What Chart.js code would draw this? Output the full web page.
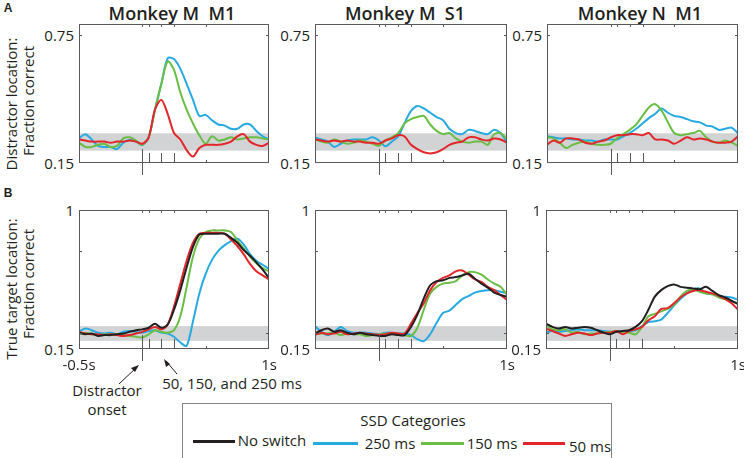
<!DOCTYPE html>
<html>
<head>
<meta charset="utf-8">
<script src="https://cdn.jsdelivr.net/npm/chart.js@4.4.0/dist/chart.umd.min.js"></script>
<style>
  body { margin: 0; width: 744px; height: 458px; background: #fff; position: relative; overflow: hidden;
         font-family: 'Open Sans', sans-serif; color: #231f20; }
  canvas { position: absolute; }
  .t { position: absolute; white-space: pre; line-height: 1; transform: translate(-50%, -50%); }
  .title { font-size: 18px; font-weight: 600; }
  .ytitle { font-size: 15px; transform: translate(-50%, -50%) rotate(-90deg); }
  .tick { font-size: 15px; }
  .note { font-size: 15px; }
  .letter { font-family: 'Liberation Sans', Arial, sans-serif; font-weight: bold; font-size: 12px; }
  #legend { position: absolute; left: 182px; top: 403px; width: 430px; height: 60px; border: 1.5px solid #808285; box-sizing: border-box; }
  .sw { position: absolute; height: 2.5px; }
</style>
</head>
<body>

<div class="t letter" style="left:8px; top:8px;">A</div>
<div class="t letter" style="left:8px; top:193px;">B</div>

<div class="t title" style="left:172px; top:13px;">Monkey M  M1</div>
<div class="t title" style="left:405px; top:13px;">Monkey M  S1</div>
<div class="t title" style="left:640px; top:13px;">Monkey N  M1</div>

<div class="t ytitle" style="left:11px; top:104px;">Distractor location:</div>
<div class="t ytitle" style="left:28px; top:101px;">Fraction correct</div>
<div class="t ytitle" style="left:11px; top:289px;">True target location:</div>
<div class="t ytitle" style="left:28px; top:284px;">Fraction correct</div>

<div class="t note" style="left:107px; top:390px;">Distractor</div>
<div class="t note" style="left:107px; top:409px;">onset</div>
<div class="t note" style="left:232px; top:383px;">50, 150, and 250 ms</div>

<svg width="744" height="458" style="position:absolute; left:0; top:0; pointer-events:none;">
  <g stroke="#231f20" stroke-width="1" fill="#231f20">
    <line x1="119" y1="384" x2="137" y2="367"/>
    <polygon points="139,365 131,368 135,372" stroke="none"/>
    <line x1="177" y1="374" x2="166" y2="361"/>
    <polygon points="164,359 166,367 170,364" stroke="none"/>
  </g>
</svg>

<div id="legend"></div>
<div class="t note" style="left:413px; top:420px;">SSD Categories</div>
<div class="sw" style="left:193px; top:440px; width:42px; background:#231f20;"></div>
<div class="t note" style="left:272px; top:440px;">No switch</div>
<div class="sw" style="left:313px; top:442px; width:45px; background:#27aae1;"></div>
<div class="t note" style="left:390px; top:443px;">250 ms</div>
<div class="sw" style="left:421px; top:442px; width:43px; background:#6abd45;"></div>
<div class="t note" style="left:492px; top:443px;">150 ms</div>
<div class="sw" style="left:523px; top:442px; width:42px; background:#e2262a;"></div>
<div class="t note" style="left:590px; top:446px;">50 ms</div>

<script>
// time axis (s), relative to distractor onset
const times = [-0.5, -0.45, -0.4, -0.35, -0.3, -0.25, -0.2, -0.15, -0.1, -0.05, 0,
               0.05, 0.1, 0.15, 0.2, 0.25, 0.3, 0.35, 0.4, 0.45, 0.5,
               0.55, 0.6, 0.65, 0.7, 0.75, 0.8, 0.85, 0.9, 0.95, 1];

// SSD marker times and axis ticks
const onsetTime = 0;
const ssdMarks = [0.05, 0.15, 0.25];
const xTickVals = [0, 0.05, 0.15, 0.25, 0.5];
const distYTicks = [0.75];
const trueYTicks = [0.25, 0.75];
const distYLabels = [0.15, 0.75];
const trueYLabels = [0.15, 1];
const distBand = [0.208, 0.289];
const trueBand = [0.2, 0.29];

// A: distractor location, fraction correct
const distMM1_250 = [0.265,0.285,0.26,0.23,0.225,0.225,0.215,0.245,0.258,0.25,0.235,0.27,0.40,0.52,0.64,0.636,0.59,0.52,0.445,0.37,0.375,0.35,0.33,0.325,0.31,0.31,0.33,0.33,0.30,0.275,0.26];
const distMM1_150 = [0.245,0.225,0.225,0.235,0.24,0.225,0.23,0.265,0.27,0.255,0.235,0.27,0.40,0.52,0.625,0.585,0.48,0.40,0.335,0.28,0.24,0.275,0.255,0.26,0.27,0.26,0.265,0.27,0.27,0.265,0.26];
const distMM1_50  = [0.26,0.255,0.25,0.25,0.25,0.245,0.25,0.25,0.255,0.25,0.24,0.27,0.40,0.445,0.38,0.29,0.26,0.21,0.18,0.22,0.235,0.235,0.235,0.24,0.25,0.275,0.285,0.25,0.235,0.23,0.245];

const distMS1_250 = [0.27,0.26,0.25,0.225,0.24,0.255,0.26,0.26,0.26,0.27,0.255,0.228,0.25,0.274,0.337,0.394,0.417,0.405,0.385,0.365,0.35,0.31,0.29,0.285,0.305,0.30,0.29,0.285,0.305,0.29,0.245];
const distMS1_150 = [0.26,0.25,0.245,0.26,0.25,0.24,0.245,0.255,0.25,0.24,0.23,0.255,0.27,0.29,0.335,0.355,0.365,0.37,0.33,0.30,0.285,0.29,0.265,0.25,0.245,0.25,0.25,0.235,0.285,0.29,0.26];
const distMS1_50  = [0.26,0.255,0.25,0.255,0.25,0.255,0.25,0.25,0.245,0.245,0.24,0.255,0.265,0.28,0.274,0.235,0.215,0.20,0.195,0.20,0.215,0.235,0.245,0.25,0.27,0.27,0.26,0.255,0.265,0.26,0.245];

const distNM1_250 = [0.275,0.27,0.265,0.265,0.26,0.26,0.255,0.255,0.25,0.26,0.26,0.26,0.275,0.29,0.31,0.335,0.36,0.38,0.405,0.385,0.37,0.365,0.355,0.345,0.34,0.325,0.32,0.305,0.31,0.315,0.29];
const distNM1_150 = [0.27,0.265,0.245,0.22,0.235,0.245,0.25,0.24,0.235,0.235,0.24,0.265,0.285,0.305,0.33,0.37,0.41,0.425,0.395,0.34,0.29,0.28,0.285,0.29,0.30,0.27,0.25,0.245,0.255,0.245,0.23];
const distNM1_50  = [0.235,0.255,0.245,0.265,0.265,0.26,0.245,0.24,0.25,0.255,0.27,0.28,0.28,0.285,0.285,0.28,0.29,0.26,0.26,0.255,0.24,0.255,0.27,0.26,0.265,0.26,0.25,0.245,0.245,0.25,0.275];

// B: true target location, fraction correct
const trueMM1_none = [0.25,0.24,0.245,0.23,0.235,0.235,0.24,0.245,0.255,0.265,0.27,0.28,0.305,0.28,0.30,0.39,0.51,0.65,0.775,0.85,0.855,0.855,0.855,0.855,0.83,0.80,0.755,0.72,0.68,0.635,0.585];
const trueMM1_250  = [0.255,0.275,0.265,0.25,0.245,0.25,0.24,0.255,0.26,0.255,0.25,0.26,0.265,0.25,0.245,0.225,0.19,0.17,0.32,0.49,0.61,0.695,0.75,0.785,0.81,0.825,0.79,0.73,0.69,0.665,0.64];
const trueMM1_150  = [0.24,0.25,0.24,0.235,0.24,0.24,0.24,0.235,0.23,0.225,0.22,0.24,0.265,0.255,0.25,0.265,0.35,0.53,0.715,0.825,0.865,0.875,0.875,0.875,0.865,0.815,0.765,0.715,0.675,0.645,0.625];
const trueMM1_50   = [0.255,0.245,0.24,0.24,0.235,0.24,0.235,0.23,0.235,0.245,0.255,0.27,0.285,0.27,0.30,0.41,0.55,0.69,0.80,0.855,0.86,0.86,0.86,0.855,0.82,0.78,0.73,0.67,0.625,0.60,0.575];

const trueMS1_none = [0.245,0.265,0.275,0.255,0.265,0.25,0.24,0.25,0.24,0.235,0.23,0.23,0.24,0.235,0.235,0.285,0.36,0.46,0.54,0.565,0.57,0.585,0.59,0.60,0.61,0.58,0.55,0.525,0.495,0.48,0.47];
const trueMS1_250  = [0.29,0.255,0.235,0.255,0.285,0.26,0.25,0.25,0.25,0.245,0.24,0.25,0.25,0.245,0.245,0.235,0.21,0.198,0.24,0.31,0.37,0.385,0.42,0.455,0.475,0.495,0.505,0.51,0.51,0.50,0.49];
const trueMS1_150  = [0.24,0.245,0.245,0.25,0.235,0.245,0.24,0.24,0.23,0.235,0.24,0.245,0.24,0.245,0.235,0.23,0.28,0.39,0.49,0.53,0.55,0.555,0.565,0.60,0.62,0.62,0.605,0.575,0.55,0.53,0.48];
const trueMS1_50   = [0.235,0.25,0.24,0.245,0.255,0.24,0.245,0.25,0.245,0.24,0.235,0.24,0.25,0.245,0.245,0.305,0.37,0.43,0.51,0.56,0.585,0.60,0.625,0.63,0.605,0.575,0.56,0.53,0.51,0.48,0.45];

const trueNM1_none = [0.305,0.285,0.275,0.285,0.275,0.28,0.285,0.28,0.265,0.25,0.24,0.255,0.26,0.265,0.285,0.32,0.39,0.47,0.51,0.535,0.545,0.53,0.525,0.52,0.515,0.53,0.505,0.48,0.465,0.445,0.425];
const trueNM1_250  = [0.25,0.26,0.255,0.26,0.265,0.27,0.265,0.265,0.265,0.26,0.255,0.255,0.26,0.26,0.265,0.29,0.315,0.32,0.33,0.37,0.415,0.455,0.49,0.515,0.52,0.49,0.485,0.475,0.47,0.465,0.45];
const trueNM1_150  = [0.295,0.27,0.265,0.27,0.25,0.255,0.24,0.245,0.245,0.25,0.255,0.26,0.25,0.25,0.24,0.285,0.35,0.365,0.38,0.395,0.42,0.47,0.505,0.515,0.50,0.49,0.485,0.465,0.455,0.44,0.43];
const trueNM1_50   = [0.275,0.26,0.245,0.23,0.24,0.25,0.245,0.235,0.245,0.25,0.25,0.26,0.24,0.26,0.27,0.285,0.325,0.35,0.395,0.40,0.43,0.465,0.49,0.505,0.51,0.50,0.49,0.475,0.455,0.43,0.39];

const colNone = '#231f20', col250 = '#27aae1', col150 = '#6abd45', col50 = '#e2262a';

// Gray chance band, box, ticks and SSD markers
const panelDecor = {
  id: 'panelDecor',
  beforeDatasetsDraw(chart, args, opts) {
    const { ctx, chartArea: a, scales: { y } } = chart;
    const top = y.getPixelForValue(opts.band[1]);
    const bot = y.getPixelForValue(opts.band[0]);
    ctx.save();
    ctx.fillStyle = '#d1d3d4';
    ctx.fillRect(a.left, top, a.right - a.left, bot - top);
    ctx.restore();
  },
  afterDatasetsDraw(chart, args, opts) {
    const { ctx, chartArea: a, scales: { x, y } } = chart;
    ctx.save();
    ctx.strokeStyle = '#58595b';
    ctx.lineWidth = 1;
    ctx.strokeRect(a.left + 0.5, a.top + 0.5, a.right - a.left - 1, a.bottom - a.top - 1);
    ctx.beginPath();
    xTickVals.forEach(v => {
      const px = Math.round(x.getPixelForValue(v)) + 0.5;
      ctx.moveTo(px, a.top); ctx.lineTo(px, a.top + 3);
      ctx.moveTo(px, a.bottom); ctx.lineTo(px, a.bottom - 3);
    });
    opts.yTicks.forEach(v => {
      const py = Math.round(y.getPixelForValue(v)) + 0.5;
      ctx.moveTo(a.left, py); ctx.lineTo(a.left + 3, py);
      ctx.moveTo(a.right, py); ctx.lineTo(a.right - 3, py);
    });
    ssdMarks.forEach(v => {
      const px = Math.round(x.getPixelForValue(v)) + 0.5;
      ctx.moveTo(px, a.bottom); ctx.lineTo(px, a.bottom - 10);
    });
    const ox = Math.round(x.getPixelForValue(onsetTime)) + 0.5;
    ctx.moveTo(ox, a.bottom - 14); ctx.lineTo(ox, a.bottom + 12);
    ctx.stroke();
    ctx.restore();
  }
};

const panels = [
  { box: [79, 24, 269, 163], yMax: 0.8, band: distBand, yTicks: distYTicks, yLabels: distYLabels, xLabels: [],
    series: [[distMM1_50, col50], [distMM1_150, col150], [distMM1_250, col250]] },
  { box: [315, 24, 507, 163], yMax: 0.8, band: distBand, yTicks: distYTicks, yLabels: distYLabels, xLabels: [],
    series: [[distMS1_50, col50], [distMS1_150, col150], [distMS1_250, col250]] },
  { box: [547, 24, 738, 163], yMax: 0.8, band: distBand, yTicks: distYTicks, yLabels: distYLabels, xLabels: [],
    series: [[distNM1_50, col50], [distNM1_150, col150], [distNM1_250, col250]] },
  { box: [79, 210, 269, 349], yMax: 1, band: trueBand, yTicks: trueYTicks, yLabels: trueYLabels, xLabels: [-0.5, 1],
    series: [[trueMM1_none, colNone], [trueMM1_50, col50], [trueMM1_150, col150], [trueMM1_250, col250]] },
  { box: [315, 210, 507, 349], yMax: 1, band: trueBand, yTicks: trueYTicks, yLabels: trueYLabels, xLabels: [1],
    series: [[trueMS1_none, colNone], [trueMS1_50, col50], [trueMS1_150, col150], [trueMS1_250, col250]] },
  { box: [546, 210, 738, 349], yMax: 1, band: trueBand, yTicks: trueYTicks, yLabels: trueYLabels, xLabels: [1],
    series: [[trueNM1_none, colNone], [trueNM1_50, col50], [trueNM1_150, col150], [trueNM1_250, col250]] }
];

function addText(txt, x, y, cls, tf) {
  const d = document.createElement('div');
  d.className = 't ' + cls;
  d.textContent = txt;
  d.style.left = x + 'px';
  d.style.top = y + 'px';
  if (tf) d.style.transform = tf;
  document.body.appendChild(d);
}

panels.forEach(p => {
  const [l, t, r, b] = p.box;
  const cv = document.createElement('canvas');
  cv.width = r - l + 4;
  cv.height = b - t + 24;
  cv.style.left = (l - 2) + 'px';
  cv.style.top = (t - 2) + 'px';
  document.body.appendChild(cv);

  const chart = new Chart(cv, {
    type: 'line',
    data: {
      datasets: p.series.map(([vals, col]) => ({
        data: times.map((tm, i) => ({ x: tm, y: vals[i] })),
        borderColor: col,
        borderWidth: 2,
        pointRadius: 0,
        tension: 0.3,
        fill: false
      }))
    },
    options: {
      responsive: false,
      animation: false,
      events: [],
      layout: { padding: { left: 2, top: 2, right: 2, bottom: 22 } },
      plugins: {
        legend: { display: false },
        tooltip: { enabled: false },
        panelDecor: { band: p.band, yTicks: p.yTicks }
      },
      scales: {
        x: { type: 'linear', min: -0.5, max: 1, display: false },
        y: { min: 0.15, max: p.yMax, display: false }
      }
    },
    plugins: [panelDecor]
  });

  const ox = l - 2, oy = t - 2;
  p.yLabels.forEach(v => {
    addText(String(v), ox + chart.chartArea.left - 5, oy + chart.scales.y.getPixelForValue(v), 'tick',
            'translate(-100%, -50%)');
  });
  p.xLabels.forEach(v => {
    addText(v + 's', ox + chart.scales.x.getPixelForValue(v), oy + chart.chartArea.bottom + 15, 'tick');
  });
});
</script>
</body>
</html>
